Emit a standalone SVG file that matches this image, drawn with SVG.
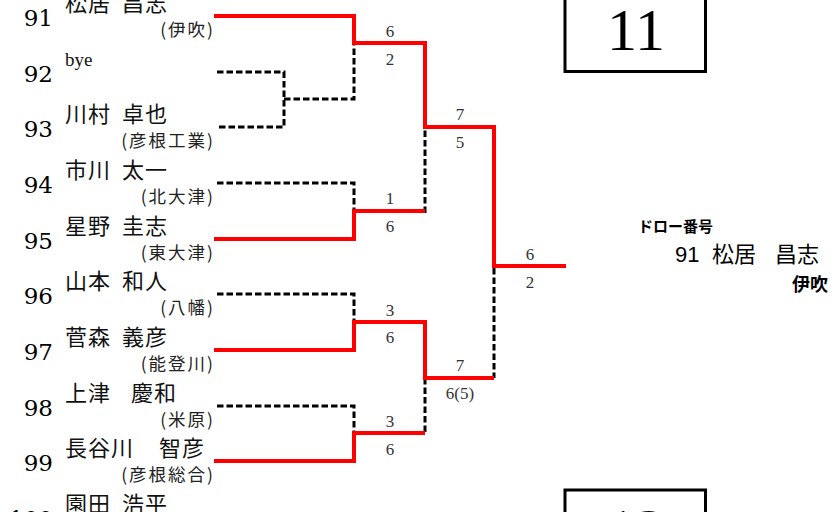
<svg xmlns="http://www.w3.org/2000/svg" width="837" height="512" viewBox="0 0 837 512">
<style>
.num{font-family:"DejaVu Serif",serif;font-size:23px;fill:#000;text-anchor:end}
.name{font-family:"Noto Sans CJK JP",sans-serif;font-size:22px;letter-spacing:1px;fill:#111}
.bye{font-family:"Liberation Serif",serif;font-size:19px;fill:#111}
.team{font-family:"Noto Sans CJK JP",sans-serif;font-size:17.5px;letter-spacing:2px;fill:#222;text-anchor:end}
.sc{font-family:"Liberation Serif",serif;font-size:17px;fill:#333;text-anchor:middle}
.win{fill:none;stroke:#ff0000;stroke-width:4;stroke-linejoin:miter}
.lose{fill:none;stroke:#000;stroke-width:3;stroke-dasharray:6.5 3}
.box{fill:none;stroke:#000;stroke-width:3}
.big{font-family:"Liberation Serif",serif;font-size:60px;fill:#000;text-anchor:middle}
.info{font-family:"Liberation Sans","Noto Sans CJK JP",sans-serif;fill:#000}
</style>

<g id="entrants">
<g id="p91"><text class="num" x="53" y="26">91</text><text class="name" y="11"><tspan x="65">松居</tspan><tspan x="122">昌志</tspan></text><text class="team" x="215" y="36">(伊吹)</text></g>
<g id="p92"><text class="num" x="53" y="82">92</text><text class="bye" x="65" y="66">bye</text></g>
<g id="p93"><text class="num" x="53" y="137">93</text><text class="name" y="122"><tspan x="65">川村</tspan><tspan x="122">卓也</tspan></text><text class="team" x="215" y="147">(彦根工業)</text></g>
<g id="p94"><text class="num" x="53" y="193">94</text><text class="name" y="178"><tspan x="65">市川</tspan><tspan x="122">太一</tspan></text><text class="team" x="215" y="203">(北大津)</text></g>
<g id="p95"><text class="num" x="53" y="249">95</text><text class="name" y="234"><tspan x="65">星野</tspan><tspan x="122">圭志</tspan></text><text class="team" x="215" y="259">(東大津)</text></g>
<g id="p96"><text class="num" x="53" y="304">96</text><text class="name" y="289"><tspan x="65">山本</tspan><tspan x="122">和人</tspan></text><text class="team" x="215" y="314">(八幡)</text></g>
<g id="p97"><text class="num" x="53" y="360">97</text><text class="name" y="345"><tspan x="65">菅森</tspan><tspan x="122">義彦</tspan></text><text class="team" x="215" y="370">(能登川)</text></g>
<g id="p98"><text class="num" x="53" y="416">98</text><text class="name" y="401"><tspan x="65">上津</tspan><tspan x="131">慶和</tspan></text><text class="team" x="215" y="426">(米原)</text></g>
<g id="p99"><text class="num" x="53" y="471">99</text><text class="name" y="456"><tspan x="65">長谷川</tspan><tspan x="159">智彦</tspan></text><text class="team" x="215" y="481">(彦根総合)</text></g>
<g id="p100"><text class="num" x="53" y="527">100</text><text class="name" y="512"><tspan x="65">園田</tspan><tspan x="122">浩平</tspan></text></g>
</g>

<g id="connectors">
<path class="lose" d="M217 72 H284 V127 H217 M284 99 H354 V45"/>
<path class="lose" d="M217 183 H354 V209"/>
<path class="lose" d="M425 213 V129"/>
<path class="lose" d="M217 294 H354 V320"/>
<path class="lose" d="M217 406 H354 V431"/>
<path class="lose" d="M425 378 V433"/>
<path class="lose" d="M494 268 V378"/>
<path class="win" d="M214 16 H354 V43 H425 V127 H494 V266 H566"/>
<path class="win" d="M214 239 H354 V211 H425"/>
<path class="win" d="M214 350 H354 V322 H425 V378 H494"/>
<path class="win" d="M214 461 H354 V433 H425"/>
</g>

<g id="scores">
<text class="sc" x="390" y="37">6</text><text class="sc" x="390" y="65">2</text>
<text class="sc" x="390" y="204">1</text><text class="sc" x="390" y="232">6</text>
<text class="sc" x="390" y="316">3</text><text class="sc" x="390" y="343">6</text>
<text class="sc" x="390" y="427">3</text><text class="sc" x="390" y="455">6</text>
<text class="sc" x="460" y="120">7</text><text class="sc" x="460" y="148">5</text>
<text class="sc" x="460" y="371">7</text><text class="sc" x="460" y="399">6(5)</text>
<text class="sc" x="530" y="260">6</text><text class="sc" x="530" y="288">2</text>
</g>

<g id="block11">
<rect class="box" x="565" y="-10" width="140.5" height="81.5"/>
<text class="big" x="636" y="50">11</text>
</g>
<g id="block12">
<rect class="box" x="565" y="490" width="140.5" height="40"/>
<text class="big" x="636" y="550">12</text>
</g>

<g id="winner">
<text class="info" x="638" y="232" font-size="15" font-weight="bold">ドロー番号</text>
<text class="info" y="262" font-size="22"><tspan x="675">91</tspan><tspan x="712">松居</tspan><tspan x="775">昌志</tspan></text>
<text class="info" x="792" y="291" font-size="18" font-weight="bold">伊吹</text>
</g>
</svg>
